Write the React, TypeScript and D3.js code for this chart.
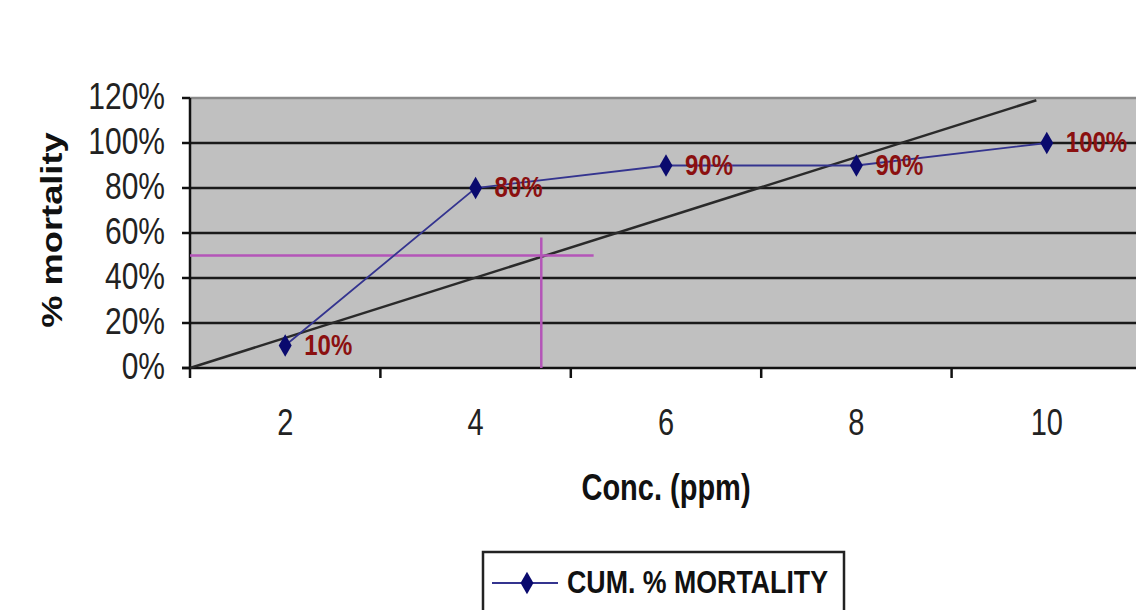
import { useEffect, useRef } from "react";
import * as d3 from "d3";

// ── Data ──
const categories = ["2", "4", "6", "8", "10"];
const mortality = [10, 80, 90, 90, 100];
const pointLabels = ["10%", "80%", "90%", "90%", "100%"];
const yTicks = [0, 20, 40, 60, 80, 100, 120];
// hand-drawn straight line (conc ppm, % mortality)
const trendLine: [number, number][] = [
  [1, 0],
  [9.89, 119],
];
// LC50 read-off guides (conc ppm, % mortality)
const guideH: [number, number][] = [
  [1, 50],
  [5.24, 50],
];
const guideV: [number, number][] = [
  [4.69, 0],
  [4.69, 58],
];

const W = 1136;
const H = 610;
const STRETCH = 1.25; // the source picture is squashed horizontally

export default function App() {
  const svgRef = useRef<SVGSVGElement>(null);

  useEffect(() => {
    if (!svgRef.current) return;
    const svg = d3.select(svgRef.current);
    svg.selectAll("*").remove();

    const left = 190;
    const right = 1142;
    const top = 98;
    const bottom = 368;

    const x = d3.scaleBand<string>().domain(categories).range([left, right]);
    // continuous conc scale aligned with the bands (2 ppm per band)
    const xc = d3.scaleLinear().domain([1, 11]).range([left, right]);
    const y = d3.scaleLinear().domain([0, 120]).range([bottom, top]);

    const g = svg.append("g");

    // ── Plot area ──
    g.append("rect")
      .attr("x", left)
      .attr("y", top)
      .attr("width", right - left)
      .attr("height", bottom - top)
      .attr("fill", "#c0c0c0");

    // ── Gridlines ──
    g.selectAll("line.grid")
      .data(yTicks.filter((t) => t > 0))
      .join("line")
      .attr("class", "grid")
      .attr("x1", left)
      .attr("x2", right)
      .attr("y1", (d) => y(d))
      .attr("y2", (d) => y(d))
      .attr("stroke", (d) => (d === 120 ? "#8a8a8a" : "#1a1a1a"))
      .attr("stroke-width", 2.5);

    // ── Axes ──
    g.append("line")
      .attr("x1", left)
      .attr("x2", left)
      .attr("y1", top)
      .attr("y2", bottom + 10)
      .attr("stroke", "#111")
      .attr("stroke-width", 2.5);
    g.append("line")
      .attr("x1", left - 8)
      .attr("x2", right)
      .attr("y1", bottom)
      .attr("y2", bottom)
      .attr("stroke", "#111")
      .attr("stroke-width", 2.5);

    g.selectAll("line.ytick")
      .data(yTicks)
      .join("line")
      .attr("class", "ytick")
      .attr("x1", left - 8)
      .attr("x2", left)
      .attr("y1", (d) => y(d))
      .attr("y2", (d) => y(d))
      .attr("stroke", "#111")
      .attr("stroke-width", 2.5);

    g.selectAll("line.xtick")
      .data(categories.slice(1))
      .join("line")
      .attr("class", "xtick")
      .attr("x1", (d) => x(d)!)
      .attr("x2", (d) => x(d)!)
      .attr("y1", bottom)
      .attr("y2", bottom + 10)
      .attr("stroke", "#111")
      .attr("stroke-width", 2.5);

    // ── Tick labels ──
    g.selectAll("text.ylab")
      .data(yTicks)
      .join("text")
      .attr("class", "ylab")
      .attr("transform", (d) => `translate(165,${y(d) + 11}) scale(1,${STRETCH})`)
      .attr("text-anchor", "end")
      .attr("font-family", "Liberation Sans, Arial, sans-serif")
      .attr("font-size", 30)
      .attr("fill", "#222")
      .text((d) => `${d}%`);

    g.selectAll("text.xlab")
      .data(categories)
      .join("text")
      .attr("class", "xlab")
      .attr(
        "transform",
        (d) => `translate(${x(d)! + x.bandwidth() / 2},435) scale(1,${STRETCH})`
      )
      .attr("text-anchor", "middle")
      .attr("font-family", "Liberation Sans, Arial, sans-serif")
      .attr("font-size", 29)
      .attr("fill", "#222")
      .text((d) => d);

    // ── Axis titles ──
    g.append("text")
      .attr("transform", `translate(666,500) scale(1,${STRETCH})`)
      .attr("text-anchor", "middle")
      .attr("font-family", "Liberation Sans, Arial, sans-serif")
      .attr("font-weight", "bold")
      .attr("font-size", 29)
      .attr("fill", "#111")
      .text("Conc. (ppm)");

    g.append("text")
      .attr("transform", `translate(62,230) rotate(-90) scale(${STRETCH},1)`)
      .attr("text-anchor", "middle")
      .attr("font-family", "Liberation Sans, Arial, sans-serif")
      .attr("font-weight", "bold")
      .attr("font-size", 29)
      .attr("fill", "#111")
      .text("% mortality");

    // ── Trend line & guides ──
    const lineC = d3
      .line<[number, number]>()
      .x((d) => xc(d[0]))
      .y((d) => y(d[1]));

    g.append("path")
      .attr("d", lineC(trendLine)!)
      .attr("fill", "none")
      .attr("stroke", "#2a2a2a")
      .attr("stroke-width", 2.5);

    [guideH, guideV].forEach((gd) =>
      g
        .append("path")
        .attr("d", lineC(gd)!)
        .attr("fill", "none")
        .attr("stroke", "#b455b8")
        .attr("stroke-width", 2.5)
    );

    // ── Series ──
    const pts = categories.map((c, i) => ({
      cx: x(c)! + x.bandwidth() / 2,
      cy: y(mortality[i]),
      label: pointLabels[i],
    }));

    g.append("path")
      .attr(
        "d",
        d3
          .line<{ cx: number; cy: number }>()
          .x((d) => d.cx)
          .y((d) => d.cy)(pts)!
      )
      .attr("fill", "none")
      .attr("stroke", "#34348f")
      .attr("stroke-width", 1.8);

    const diamond = d3.symbol(d3.symbolDiamond, 120);
    g.selectAll("path.marker")
      .data(pts)
      .join("path")
      .attr("class", "marker")
      .attr("d", diamond()!)
      .attr("transform", (d) => `translate(${d.cx},${d.cy}) scale(1.1,1.1)`)
      .attr("fill", "#0a0a6e");

    g.selectAll("text.plab")
      .data(pts)
      .join("text")
      .attr("class", "plab")
      .attr("transform", (d) => `translate(${d.cx + 19},${d.cy + 9}) scale(1,1.2)`)
      .attr("font-family", "Liberation Sans, Arial, sans-serif")
      .attr("font-weight", "bold")
      .attr("font-size", 24)
      .attr("fill", "#8b1010")
      .text((d) => d.label);

    // ── Legend ──
    const lg = svg.append("g");
    lg.append("path")
      .attr("d", `M483,620 V552 H844 V620`)
      .attr("fill", "#fff")
      .attr("stroke", "#222")
      .attr("stroke-width", 2.5);
    lg.append("line")
      .attr("x1", 492)
      .attr("x2", 558)
      .attr("y1", 583)
      .attr("y2", 583)
      .attr("stroke", "#34348f")
      .attr("stroke-width", 2);
    lg.append("path")
      .attr("d", diamond()!)
      .attr("transform", "translate(527,583) scale(1.1,1.1)")
      .attr("fill", "#0a0a6e");
    lg.append("text")
      .attr("transform", `translate(567,593) scale(1,1.3)`)
      .attr("font-family", "Liberation Sans, Arial, sans-serif")
      .attr("font-weight", "bold")
      .attr("font-size", 24)
      .attr("textLength", 261)
      .attr("lengthAdjust", "spacingAndGlyphs")
      .attr("fill", "#111")
      .text("CUM. % MORTALITY");
  }, []);

  return (
    <svg
      ref={svgRef}
      width={W}
      height={H}
      style={{ position: "absolute", left: 0, top: 0, background: "#fff" }}
    />
  );
}
